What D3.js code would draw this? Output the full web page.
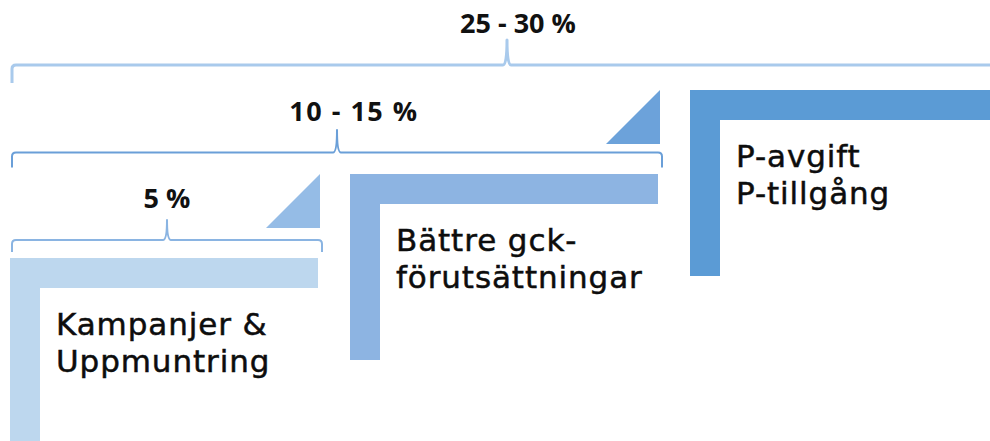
<!DOCTYPE html>
<html>
<head>
<meta charset="utf-8">
<script src="https://cdn.jsdelivr.net/npm/d3@7"></script>
<style>
  html, body { margin: 0; padding: 0; background: #fff; }
  svg { display: block; }
</style>
</head>
<body>
<svg id="chart" width="990" height="441"></svg>
<script>
// ---- data ----
const steps = [0, 1, 2];
const stepLabels = [
  ["Kampanjer &", "Uppmuntring"],
  ["Bättre gck-", "förutsättningar"],
  ["P-avgift", "P-tillgång"]
];
const effectLabels = ["5 %", "10 - 15 %", "25 - 30 %"];

// ---- styles ----
const stepColors = ["#BDD7EE", "#8DB4E2", "#5B9BD5"];
const triangleColors = ["#95BCE6", "#6CA2DA"];
const braceColors = ["#8AB4E2", "#6A9FD8", "#A9CAEC"];
const labelDx = [0, 17, 11];
const labelSpacing = [0, 1.5, 0];

const W = 990, H = 441;
const svg = d3.select("#chart");

const x = d3.scaleLinear().domain([0, 3]).range([10, 1030]);
const y = d3.scaleLinear().domain([0, 3]).range([258, 6]);

const thick = 30;     // bar thickness
const legLen = 186;   // vertical leg length

// L-shaped steps
const g = svg.append("g");
steps.forEach(i => {
  const x0 = x(i), x1 = x(i + 1) - 32, y0 = y(i);
  const p = d3.path();
  p.moveTo(x0, y0);
  p.lineTo(x1, y0);
  p.lineTo(x1, y0 + thick);
  p.lineTo(x0 + thick, y0 + thick);
  p.lineTo(x0 + thick, y0 + legLen);
  p.lineTo(x0, y0 + legLen);
  p.closePath();
  g.append("path").attr("d", p.toString()).attr("fill", stepColors[i]);
});

// triangles between steps
steps.slice(0, 2).forEach(i => {
  const xr = x(i + 1) - 30, xl = xr - 54;
  const yt = y(i + 1), yb = y(i) - thick;
  g.append("path")
    .attr("d", `M${xl},${yb}L${xr},${yt}L${xr},${yb}Z`)
    .attr("fill", triangleColors[i]);
});

// braces
steps.forEach(i => {
  const xl = 12, xr = x(i + 1) - 28;
  const by = y(i) - 18 - 3.5 * i;
  const drop = 12 + 3 * i;
  const tipH = 20 + 2.5 * i;
  const tx = (xl + xr) / 2;
  const r = 4;
  const p = d3.path();
  p.moveTo(xl, by + drop);
  p.lineTo(xl, by + r);
  p.quadraticCurveTo(xl, by, xl + r, by);
  p.lineTo(tx - 4, by);
  p.quadraticCurveTo(tx, by, tx, by - tipH);
  p.quadraticCurveTo(tx, by, tx + 4, by);
  p.lineTo(xr - r, by);
  p.quadraticCurveTo(xr, by, xr, by + r);
  p.lineTo(xr, by + drop);
  g.append("path").attr("d", p.toString())
    .attr("fill", "none")
    .attr("stroke", braceColors[i])
    .attr("stroke-width", i === 2 ? 3 : 2)
    .attr("stroke-linejoin", "round");
  g.append("text")
    .attr("x", tx + labelDx[i])
    .attr("y", by - 32)
    .attr("text-anchor", "middle")
    .attr("font-family", "'Open Sans', sans-serif")
    .attr("font-weight", "bold")
    .attr("font-size", 27)
    .attr("letter-spacing", labelSpacing[i])
    .attr("fill", "#111")
    .text(effectLabels[i]);
});

// step labels (one text per line)
steps.forEach(i => {
  stepLabels[i].forEach((line, k) => {
    g.append("text")
      .attr("x", x(i) + 46)
      .attr("y", y(i) + 77 + k * 37)
      .attr("font-family", "'DejaVu Sans', sans-serif")
      .attr("font-size", 31)
      .attr("letter-spacing", 0.9)
      .attr("fill", "#0d0d0d")
      .attr("stroke", "#0d0d0d")
      .attr("stroke-width", 0.5)
      .text(line);
  });
});
</script>
</body>
</html>
